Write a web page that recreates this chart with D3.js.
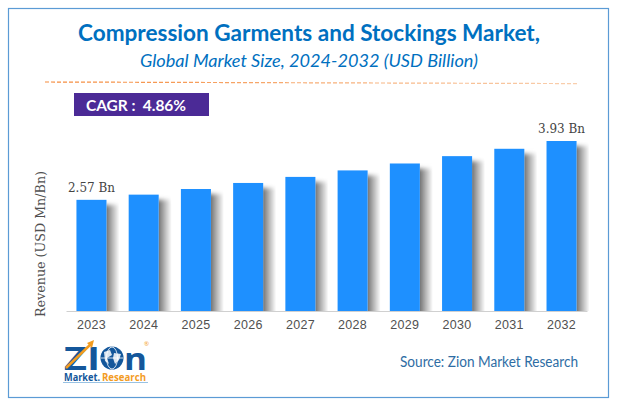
<!DOCTYPE html>
<html lang="en">
<head>
  <meta charset="UTF-8">
  <title>Compression Garments and Stockings Market</title>
  <script src="https://d3js.org/d3.v7.min.js"></script>
  <style>
    html, body { margin: 0; padding: 0; background: #fff; overflow: hidden; }
    svg { display: block; }
  </style>
</head>
<body>
<svg id="chart" width="617" height="406"></svg>

<script>
const years = ["2023", "2024", "2025", "2026", "2027", "2028", "2029", "2030", "2031", "2032"];
const revenue = [2.57, 2.69, 2.82, 2.96, 3.10, 3.25, 3.41, 3.58, 3.75, 3.93];
const endLabels = ["2.57 Bn", "3.93 Bn"];

const svg = d3.select("#chart");

// plot area
const plot = { left: 66, right: 587, bottom: 311 };
const x = d3.scaleBand().domain(years).range([plot.left, plot.right]).paddingInner(0.425).paddingOuter(0.2);
const y = d3.scaleLinear().domain([0, 3.93]).range([plot.bottom, 141]);

const defs = svg.append("defs");
const shade = defs.append("linearGradient").attr("id", "barShade");
shade.append("stop").attr("offset", "0%").attr("stop-color", "#757575");
shade.append("stop").attr("offset", "50%").attr("stop-color", "#bcbcbc");
shade.append("stop").attr("offset", "100%").attr("stop-color", "#ffffff");

// soft top edge on the shadows
defs.append("filter").attr("id", "softTop")
  .attr("x", "0").attr("width", "1").attr("y", "-0.1").attr("height", "1.2")
  .append("feGaussianBlur").attr("stdDeviation", "0 2");

defs.append("clipPath").attr("id", "plotClip")
  .append("rect").attr("x", 0).attr("y", 0).attr("width", 617).attr("height", plot.bottom);

const dashFade = defs.append("linearGradient").attr("id", "dashFade")
  .attr("gradientUnits", "userSpaceOnUse")
  .attr("x1", 45).attr("x2", 579).attr("y1", 0).attr("y2", 0);
dashFade.append("stop").attr("offset", "0%").attr("stop-color", "#f58b3c");
dashFade.append("stop").attr("offset", "100%").attr("stop-color", "#f9cfae");

// frame
svg.append("rect")
  .attr("x", 8.5).attr("y", 8.5)
  .attr("width", 600).attr("height", 389)
  .attr("fill", "#fff")
  .attr("stroke", "#5b9bd5")
  .attr("stroke-width", 1.2);

// titles
svg.append("text")
  .attr("x", 309).attr("y", 41)
  .attr("text-anchor", "middle")
  .style("font", "bold 23.5px Lato")
  .style("fill", "#0070c0")
  .attr("textLength", 462)
  .attr("lengthAdjust", "spacingAndGlyphs")
  .text("Compression Garments and Stockings Market,");

svg.append("text")
  .attr("x", 309).attr("y", 67)
  .attr("text-anchor", "middle")
  .style("font", "italic 18px Lato")
  .style("fill", "#0070c0")
  .attr("textLength", 338)
  .attr("lengthAdjust", "spacingAndGlyphs")
  .text("Global Market Size, 2024-2032 (USD Billion)");

svg.append("line")
  .attr("x1", 45).attr("x2", 579)
  .attr("y1", 82).attr("y2", 83.6)
  .attr("stroke", "url(#dashFade)")
  .attr("stroke-width", 1.2)
  .attr("stroke-dasharray", "4,2");

// CAGR box
svg.append("rect")
  .attr("x", 74).attr("y", 93)
  .attr("width", 135).attr("height", 23)
  .attr("fill", "#4b2a96");

svg.append("text")
  .attr("x", 86).attr("y", 110.5)
  .style("font", "bold 15.5px Lato")
  .style("fill", "#fff")
  .style("white-space", "pre")
  .attr("textLength", 100)
  .attr("lengthAdjust", "spacing")
  .text("CAGR :  4.86%");

// bar shadows, then bars
const g = svg.append("g");

g.append("g")
  .attr("clip-path", "url(#plotClip)")
  .selectAll("rect")
  .data(years)
  .join("rect")
  .attr("filter", "url(#softTop)")
  .attr("x", d => x(d) + x.bandwidth())
  .attr("y", (d, i) => y(revenue[i]) + 5)
  .attr("width", 13)
  .attr("height", (d, i) => plot.bottom - y(revenue[i]) + 5)
  .attr("fill", "url(#barShade)");

g.selectAll("rect.bar")
  .data(years)
  .join("rect")
  .attr("class", "bar")
  .attr("x", d => x(d))
  .attr("y", (d, i) => y(revenue[i]))
  .attr("width", x.bandwidth())
  .attr("height", (d, i) => plot.bottom - y(revenue[i]))
  .attr("fill", "#1e90ff");

// x axis
const axis = svg.append("g")
  .attr("transform", `translate(0,${plot.bottom})`)
  .call(d3.axisBottom(x).tickSize(0).tickPadding(9));
axis.select(".domain").attr("stroke", "#d0d0d0").attr("stroke-width", 1);
axis.selectAll("text")
  .style("font", "12.5px 'Liberation Sans'")
  .style("letter-spacing", "0.3px")
  .style("fill", "#505050");

// y title
svg.append("text")
  .attr("transform", "translate(45,317) rotate(-90)")
  .style("font", "12.5px 'DejaVu Serif'")
  .style("fill", "#505050")
  .attr("textLength", 146)
  .attr("lengthAdjust", "spacingAndGlyphs")
  .text("Revenue (USD Mn/Bn)");

// first and last value labels
svg.append("text")
  .attr("x", x(years[0]) + x.bandwidth() / 2).attr("y", y(revenue[0]) - 8)
  .attr("text-anchor", "middle")
  .style("font", "12px 'DejaVu Serif'")
  .style("fill", "#444")
  .attr("textLength", 47)
  .attr("lengthAdjust", "spacingAndGlyphs")
  .text(endLabels[0]);

svg.append("text")
  .attr("x", x(years[9]) + x.bandwidth() / 2).attr("y", y(revenue[9]) - 8)
  .attr("text-anchor", "middle")
  .style("font", "12px 'DejaVu Serif'")
  .style("fill", "#444")
  .attr("textLength", 47)
  .attr("lengthAdjust", "spacingAndGlyphs")
  .text(endLabels[1]);

// source
svg.append("text")
  .attr("x", 400).attr("y", 367)
  .style("font", "14.5px Lato")
  .style("fill", "#2e6da4")
  .attr("textLength", 178)
  .attr("lengthAdjust", "spacingAndGlyphs")
  .text("Source: Zion Market Research");

// logo
const logo = svg.append("g");
logo.append("text")
  .attr("x", 64).attr("y", 370)
  .style("font", "bold 32px 'Open Sans'")
  .style("fill", "#14579b")
  .attr("textLength", 36)
  .attr("lengthAdjust", "spacingAndGlyphs")
  .text("ZI");
logo.append("line")
  .attr("x1", 66).attr("y1", 368).attr("x2", 91).attr("y2", 344)
  .attr("stroke", "#f39c1f").attr("stroke-width", 2.5);
logo.append("path")
  .attr("d", "M87,343 L94,340 L92,348 Z")
  .attr("fill", "#f39c1f");
logo.append("circle")
  .attr("cx", 112).attr("cy", 358).attr("r", 11.5)
  .attr("fill", "#14579b");
logo.append("ellipse")
  .attr("cx", 112).attr("cy", 358).attr("rx", 5.5).attr("ry", 11)
  .attr("fill", "none").attr("stroke", "#fff").attr("stroke-width", 0.8);
logo.append("line")
  .attr("x1", 101).attr("x2", 123).attr("y1", 358).attr("y2", 358)
  .attr("stroke", "#fff").attr("stroke-width", 0.8);
logo.append("path")
  .attr("d", "M104,352 L110,350 L112,355 L107,358 L109,364 L105,361 Z M114,353 L121,354 L119,360 L115,364 L113,358 Z")
  .attr("fill", "#fff")
  .attr("opacity", 0.85);
logo.append("text")
  .attr("x", 124).attr("y", 370)
  .style("font", "bold 30px 'Open Sans'")
  .style("fill", "#14579b")
  .attr("textLength", 23)
  .attr("lengthAdjust", "spacingAndGlyphs")
  .text("n");
logo.append("text")
  .attr("x", 64).attr("y", 381)
  .style("font", "bold 10.5px 'Open Sans'")
  .style("fill", "#14579b")
  .attr("textLength", 36)
  .attr("lengthAdjust", "spacingAndGlyphs")
  .text("Market.");
logo.append("text")
  .attr("x", 102).attr("y", 381)
  .style("font", "bold 10.5px 'Open Sans'")
  .style("fill", "#f39c1f")
  .attr("textLength", 44)
  .attr("lengthAdjust", "spacingAndGlyphs")
  .text("Research");
logo.append("text")
  .attr("x", 144).attr("y", 346)
  .style("font", "6px 'Open Sans'")
  .style("fill", "#f39c1f")
  .text("®");
logo.append("line")
  .attr("x1", 63).attr("x2", 148).attr("y1", 382.5).attr("y2", 382.5)
  .attr("stroke", "#7fb2dc").attr("stroke-width", 0.8);
</script>
</body>
</html>
